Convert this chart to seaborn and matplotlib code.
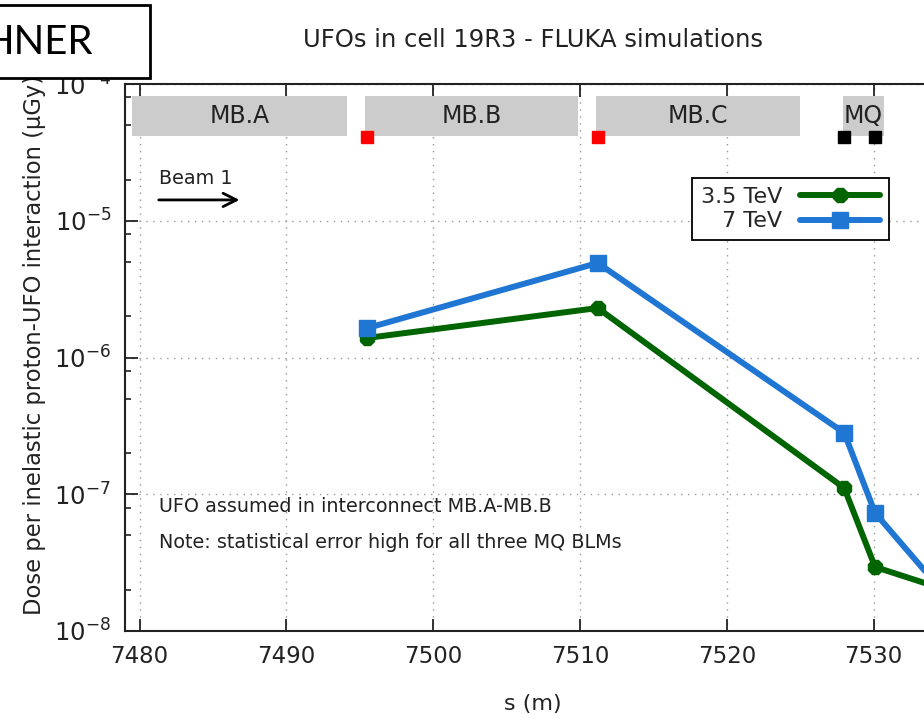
import numpy as np
import pandas as pd
import matplotlib
matplotlib.use("Agg")
import matplotlib.pyplot as plt
from matplotlib.patches import Rectangle
from matplotlib.ticker import LogLocator, FixedLocator, NullFormatter
import seaborn as sns

# BLM positions along the cell (m) and simulated dose per interaction (uGy)
s_blm = [7495.5, 7511.2, 7528.0, 7530.1, 7534.6]
dose_35tev = [1.39e-6, 2.30e-6, 1.11e-7, 2.94e-8, 2.05e-8]
dose_7tev = [1.64e-6, 4.91e-6, 2.81e-7, 7.3e-8, 2.0e-8]
series_labels = ["3.5 TeV", "7 TeV"]

# Magnet layout (start, end) in m
magnet_names = ["MB.A", "MB.B", "MB.C", "MQ"]
magnet_start = [7479.5, 7495.35, 7511.1, 7527.9]
magnet_end = [7494.1, 7509.85, 7525.0, 7530.7]

# BLMs drawn on the layout bar: red at dipole interconnects, black at MQ
blm_red = [7495.5, 7511.2]
blm_black = [7528.0, 7530.1]

x_ticks = [7480, 7490, 7500, 7510, 7520, 7530]

sns.set_theme(style="ticks")
plt.rcParams["font.family"] = ["DejaVu Sans"]
plt.rcParams["mathtext.fontset"] = "dejavusans"

W, H = 924, 718
fig = plt.figure(figsize=(W / 100, H / 100), dpi=100)
fig.patch.set_facecolor("white")

# axes in pixel geometry (extends slightly past the right edge of the canvas)
L, R, T, B = 125, 947, 84, 631
ax = fig.add_axes([L / W, 1 - B / H, (R - L) / W, (B - T) / H])
ax.set_facecolor("white")

df = pd.DataFrame({
    "s": s_blm * 2,
    "dose": dose_35tev + dose_7tev,
    "beam": [series_labels[0]] * len(s_blm) + [series_labels[1]] * len(s_blm),
})

green = "#006400"
blue = "#1f77d3"
sns.lineplot(data=df[df.beam == series_labels[0]], x="s", y="dose", ax=ax,
             color=green, lw=4.3, marker="8", markersize=11.5,
             markeredgecolor=green, markeredgewidth=1, label=series_labels[0],
             sort=False, zorder=5)
sns.lineplot(data=df[df.beam == series_labels[1]], x="s", y="dose", ax=ax,
             color=blue, lw=4.3, marker="s", markersize=11,
             markeredgecolor=blue, markeredgewidth=1, label=series_labels[1],
             sort=False, zorder=6)

ax.set_yscale("log")
ax.set_xlim(7479, 7535)
ax.set_ylim(1e-8, 1e-4)

# magnet layout bar
bar_lo, bar_hi = 4.15e-5, 8.2e-5
ax.broken_barh([(a, b - a) for a, b in zip(magnet_start, magnet_end)],
               (bar_lo, bar_hi - bar_lo), facecolors="#cccccc",
               edgecolor="none", zorder=2)
for name, a, b in zip(magnet_names, magnet_start, magnet_end):
    ax.text((a + b) / 2, np.sqrt(bar_lo * bar_hi), name, ha="center",
            va="center", fontsize=17, color="#222222", zorder=3)
ax.plot(blm_red, [4.1e-5] * len(blm_red), ls="none", marker="s",
        ms=9, color="#ff0000", zorder=4)
ax.plot(blm_black, [4.1e-5] * len(blm_black), ls="none", marker="s",
        ms=9, color="#000000", zorder=4)

# beam direction
ax.annotate("", xy=(7486.8, 1.42e-5), xytext=(7481.3, 1.42e-5),
            arrowprops=dict(arrowstyle="->", lw=2, color="black",
                            mutation_scale=24, shrinkA=0, shrinkB=0))
ax.text(7481.3, 2.02e-5, "Beam 1", fontsize=13.8, va="center", ha="left",
        color="#222222")

ax.text(0.0414, 0.2267, "UFO assumed in interconnect MB.A-MB.B",
        transform=ax.transAxes, fontsize=13.8, va="center", ha="left",
        color="#222222")
ax.text(0.0414, 0.1609, "Note: statistical error high for all three MQ BLMs",
        transform=ax.transAxes, fontsize=13.8, va="center", ha="left",
        color="#222222")

# ticks
ax.xaxis.set_major_locator(FixedLocator(x_ticks))
ax.xaxis.set_ticklabels([str(t) for t in x_ticks])
ax.yaxis.set_minor_locator(LogLocator(base=10, subs=(2.0, 5.0, 8.0), numticks=20))
ax.yaxis.set_minor_formatter(NullFormatter())
ax.set_yticks([1e-8, 1e-7, 1e-6, 1e-5, 1e-4])
ax.set_yticklabels([r"$10^{-8}$", r"$10^{-7}$", r"$10^{-6}$", r"$10^{-5}$", r"$10^{-4}$"])
ax.tick_params(axis="both", which="major", direction="in", length=9, width=1.3,
               color="#222222", labelsize=16.5, pad=10, top=True, right=True,
               labelcolor="#222222")
ax.tick_params(axis="y", which="major", labelsize=17.5)
ax.tick_params(axis="y", which="minor", direction="in", length=4.5, width=1.2,
               color="#222222", right=True)
ax.tick_params(axis="x", which="minor", bottom=False, top=False)

ax.grid(True, which="major", color="#999999", lw=1, ls=(0, (1, 4)))
for sp in ax.spines.values():
    sp.set_color("#222222")
    sp.set_linewidth(1.5)
ax.set_xlabel("")
ax.set_ylabel("")

leg = ax.legend(loc="upper right",
                bbox_to_anchor=((889 - L) / (R - L), 1 - (178 - T) / (B - T)),
                borderaxespad=0, markerfirst=False, fontsize=16, frameon=True,
                fancybox=False, framealpha=1, edgecolor="black",
                handlelength=3.6, handletextpad=0.8, labelspacing=0.2,
                borderpad=0.4)
leg.get_frame().set_linewidth(1.3)
for t in leg.get_texts():
    t.set_ha("right")
leg.set_zorder(10)

# figure-level texts
fig.text(533 / W, 1 - 40 / H, "UFOs in cell 19R3 - FLUKA simulations",
         ha="center", va="center", fontsize=17.5, color="#222222")
fig.text(533 / W, 1 - 704 / H, "s (m)", ha="center", va="center",
         fontsize=16, color="#222222")
fig.text(35 / W, 1 - 615 / H, "Dose per inelastic proton-UFO interaction (\u03bcGy)",
         rotation=90, ha="center", va="bottom", fontsize=16.3, color="#222222")

# overlapping name box at the top left
fig.add_artist(Rectangle((-10 / W, 1 - 78 / H), 160 / W, 73 / H,
                         transform=fig.transFigure, facecolor="white",
                         edgecolor="black", lw=2, zorder=20))
fig.text(93 / W, 1 - 42 / H, "HNER", ha="right", va="center", fontsize=29,
         family=["Lato", "DejaVu Sans"], color="black", zorder=21)

fig.savefig("out.png", dpi=100, facecolor="white")
